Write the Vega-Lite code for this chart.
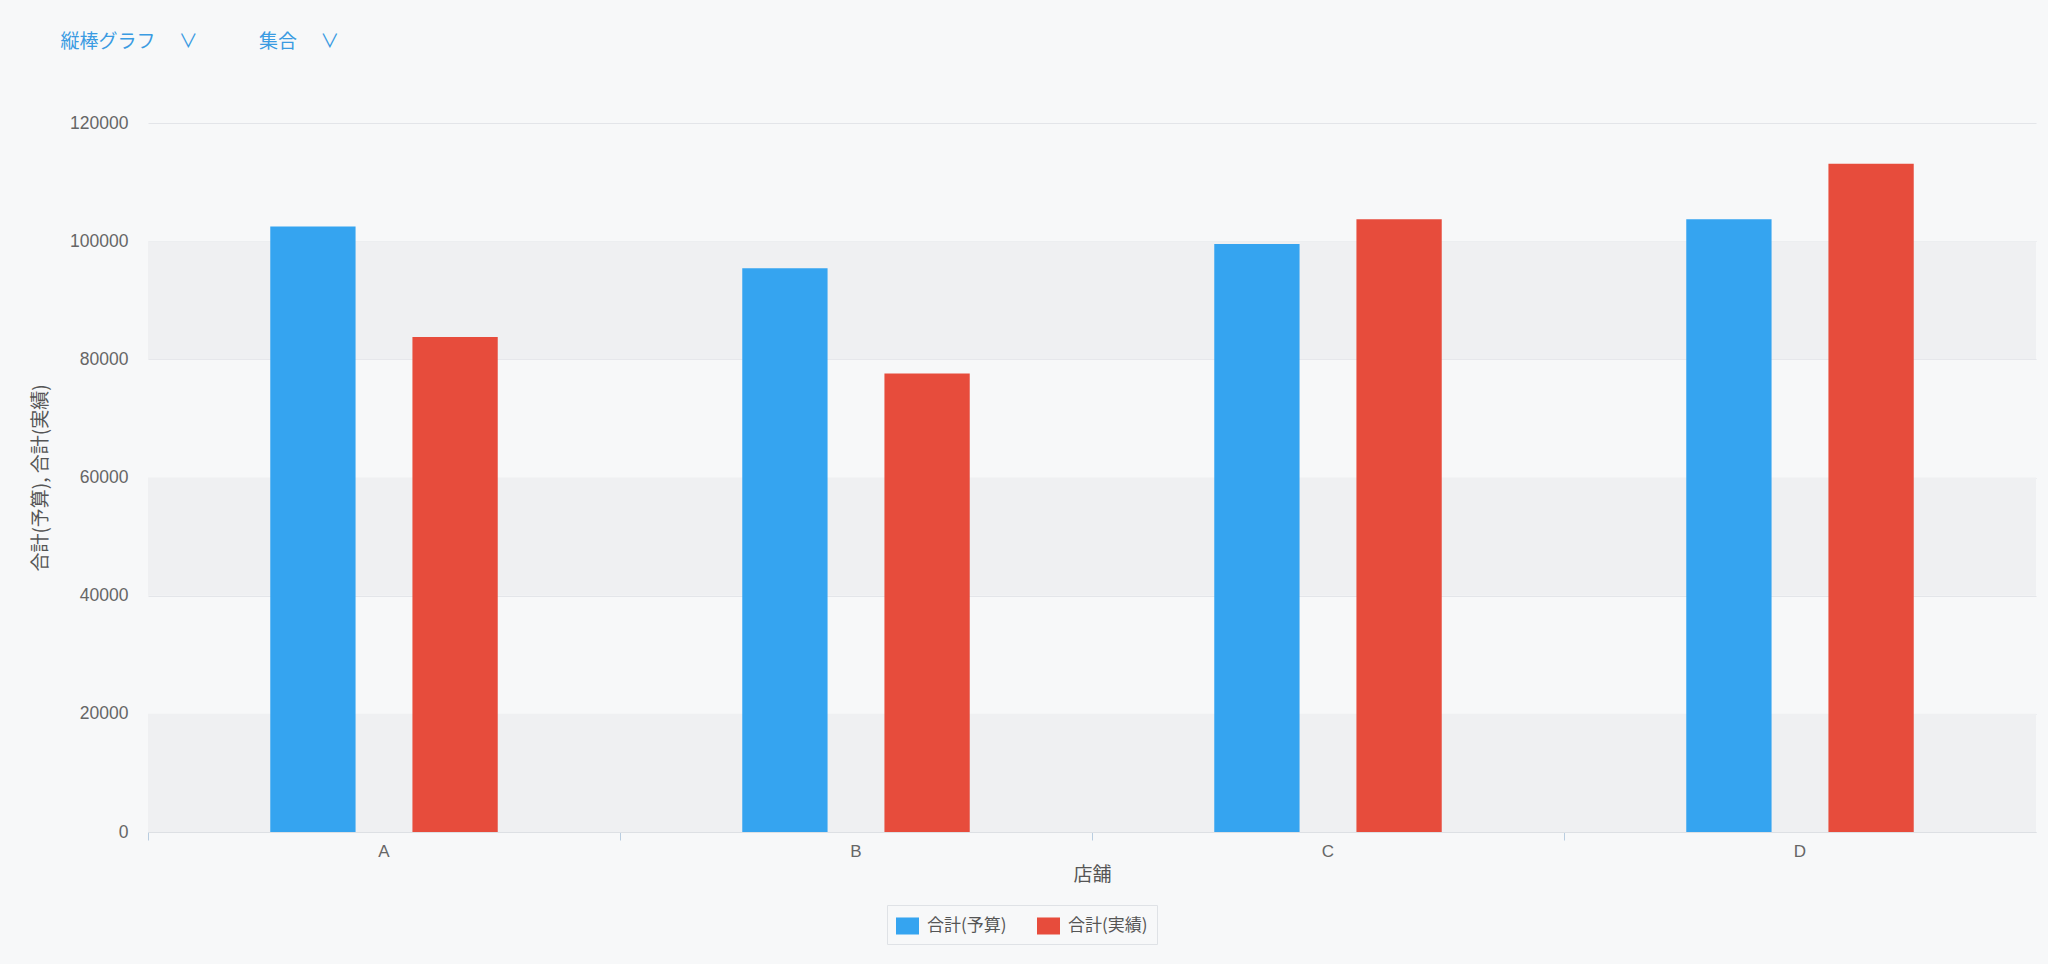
{
  "$schema": "https://vega.github.io/schema/vega-lite/v6.json",
  "autosize": {"type": "fit", "contains": "padding"},
  "width": 2048,
  "height": 964,
  "padding": {"left": 31, "top": 33, "right": 12, "bottom": 80},
  "background": "#f7f8f9",
  "title": {
    "text": "縦棒グラフ　 ∨　　　 集合　 ∨",
    "anchor": "start",
    "frame": "bounds",
    "dx": 29,
    "offset": 62,
    "fontSize": 19,
    "fontWeight": "normal",
    "font": "Noto Sans CJK JP",
    "color": "#3a9be2"
  },
  "config": {
    "view": {"stroke": null},
    "font": "Liberation Sans, Noto Sans CJK JP"
  },
  "datasets": {
    "sales": [
      {"store": "A", "series": "合計(予算)", "value": 102500},
      {"store": "A", "series": "合計(実績)", "value": 83800},
      {"store": "B", "series": "合計(予算)", "value": 95400},
      {"store": "B", "series": "合計(実績)", "value": 77600},
      {"store": "C", "series": "合計(予算)", "value": 99500},
      {"store": "C", "series": "合計(実績)", "value": 103700},
      {"store": "D", "series": "合計(予算)", "value": 103700},
      {"store": "D", "series": "合計(実績)", "value": 113100}
    ],
    "bands": [
      {"lo": 0, "hi": 20000},
      {"lo": 40000, "hi": 60000},
      {"lo": 80000, "hi": 100000}
    ]
  },
  "layer": [
    {
      "data": {"name": "bands"},
      "mark": {"type": "rect", "color": "#eff0f2"},
      "encoding": {
        "x": {"value": 0},
        "x2": {"value": "width"},
        "y": {
          "field": "lo",
          "type": "quantitative",
          "scale": {"domain": [0, 120000], "nice": false},
          "title": "合計(予算), 合計(実績)",
          "axis": {
            "values": [0, 20000, 40000, 60000, 80000, 100000, 120000],
            "domain": false,
            "ticks": false,
            "grid": true,
            "gridColor": "#e3e5e9",
            "gridWidth": 1,
            "labelFontSize": 17.5,
            "labelColor": "#666666",
            "labelPadding": 20,
            "format": "d",
            "titleFontSize": 19,
            "titleFontWeight": "normal",
            "titleColor": "#555555",
            "titleFont": "Noto Sans CJK JP",
            "titlePadding": 19
          }
        },
        "y2": {"field": "hi"}
      }
    },
    {
      "data": {"name": "sales"},
      "mark": {"type": "bar"},
      "encoding": {
        "x": {
          "field": "store",
          "type": "nominal",
          "scale": {"paddingInner": 0, "paddingOuter": 0},
          "title": "店舗",
          "axis": {
            "labelAngle": 0,
            "bandPosition": 0,
            "domain": true,
            "domainColor": "#dde0e4",
            "ticks": true,
            "tickColor": "#b9cde0",
            "tickSize": 8,
            "labelPadding": 3,
            "labelFontSize": 17,
            "labelColor": "#666666",
            "titleFontSize": 19,
            "titleFontWeight": "normal",
            "titleColor": "#555555",
            "titleFont": "Noto Sans CJK JP",
            "titlePadding": 6
          }
        },
        "xOffset": {
          "field": "series",
          "sort": ["合計(予算)", "合計(実績)"],
          "scale": {"paddingInner": 0.4, "paddingOuter": 0.86}
        },
        "y": {
          "field": "value",
          "type": "quantitative",
          "scale": {"domain": [0, 120000], "nice": false},
          "title": "合計(予算), 合計(実績)",
          "axis": {
            "values": [0, 20000, 40000, 60000, 80000, 100000, 120000],
            "domain": false,
            "ticks": false,
            "grid": true,
            "gridColor": "#e3e5e9",
            "gridWidth": 1,
            "labelFontSize": 17.5,
            "labelColor": "#666666",
            "labelPadding": 20,
            "format": "d",
            "titleFontSize": 19,
            "titleFontWeight": "normal",
            "titleColor": "#555555",
            "titleFont": "Noto Sans CJK JP",
            "titlePadding": 19
          }
        },
        "color": {
          "field": "series",
          "type": "nominal",
          "sort": ["合計(予算)", "合計(実績)"],
          "scale": {"domain": ["合計(予算)", "合計(実績)"], "range": ["#35a4f0", "#e74c3c"]},
          "legend": {
            "title": null,
            "orient": "none",
            "direction": "horizontal",
            "legendX": 739,
            "legendY": 782,
            "strokeColor": "#dfe2e6",
            "padding": 9,
            "symbolType": "M-1,-0.74L1,-0.74L1,0.74L-1,0.74Z",
            "symbolSize": 529,
            "symbolStrokeWidth": 0,
            "symbolOpacity": 1,
            "labelFontSize": 17,
            "labelColor": "#555555",
            "labelFont": "Noto Sans CJK JP",
            "labelOffset": 8,
            "columnPadding": 30
          }
        }
      }
    }
  ]
}
